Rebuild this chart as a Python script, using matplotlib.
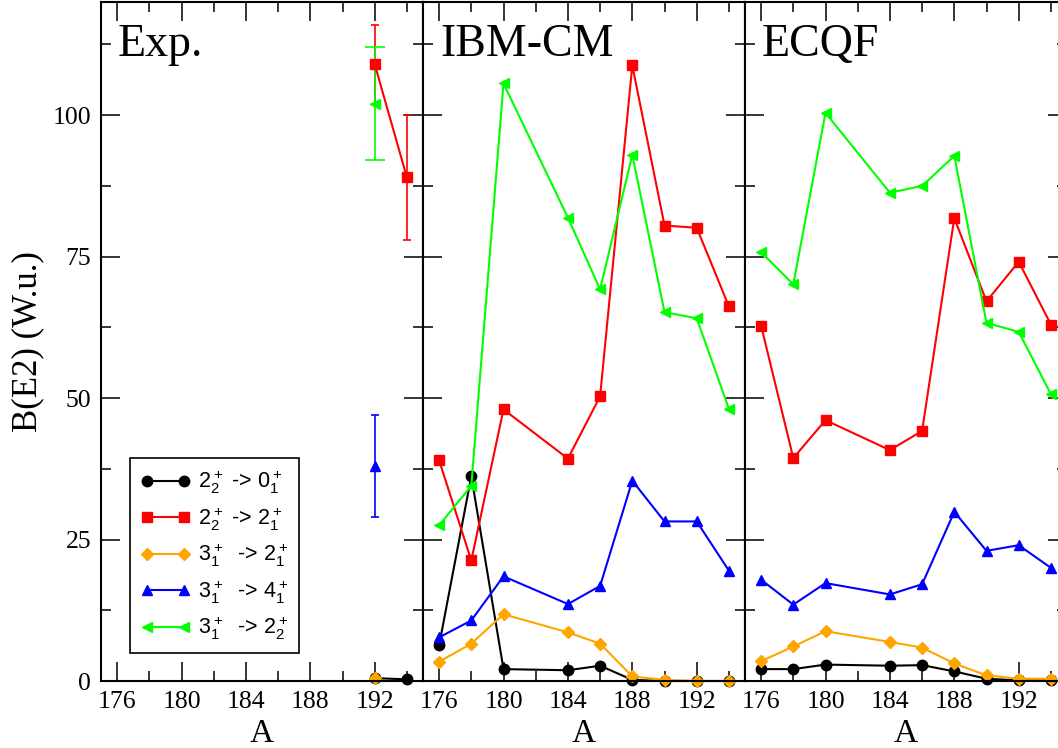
import matplotlib.pyplot as plt
from matplotlib.ticker import MultipleLocator

plt.rcParams['font.family'] = 'Liberation Serif'
plt.rcParams['axes.linewidth'] = 1.5

# mass numbers
A = [176, 178, 180, 184, 186, 188, 190, 192, 194]

# experimental B(E2) values (W.u.)
exp_A_black = [192, 194]
exp_black = [0.5, 0.3]
exp_A_red = [192, 194]
exp_red = [109, 89]
exp_red_err = [7, 11]
exp_A_orange = [192]
exp_orange = [0.6]
exp_A_blue = [192]
exp_blue = [38]
exp_blue_err = [9]
exp_A_green = [192]
exp_green = [102]
exp_green_err = [10]

# IBM-CM
ibm_black = [6.3, 36.2, 2.1, 1.9, 2.7, 0.2, 0.0, 0.0, 0.0]
ibm_red = [39.0, 21.3, 48.0, 39.3, 50.3, 108.8, 80.5, 80.1, 66.2]
ibm_orange = [3.4, 6.6, 11.8, 8.6, 6.6, 0.8, 0.2, 0.0, 0.0]
ibm_blue = [7.7, 10.7, 18.5, 13.6, 16.8, 35.4, 28.2, 28.2, 19.5]
ibm_green = [27.5, 34.5, 105.6, 81.9, 69.2, 93.0, 65.2, 64.1, 48.1]

# ECQF
ecqf_black = [2.1, 2.1, 2.9, 2.7, 2.8, 1.7, 0.4, 0.1, 0.1]
ecqf_red = [62.8, 39.4, 46.1, 40.8, 44.2, 81.8, 67.1, 74.1, 63.0]
ecqf_orange = [3.5, 6.1, 8.8, 6.9, 5.9, 3.1, 1.0, 0.4, 0.4]
ecqf_blue = [17.9, 13.5, 17.3, 15.3, 17.1, 29.9, 23.0, 24.0, 20.0]
ecqf_green = [75.8, 70.1, 100.4, 86.3, 87.5, 92.8, 63.3, 61.7, 50.7]

labels = [r'$\mathregular{2_2^+}$ -> $\mathregular{0_1^+}$',
          r'$\mathregular{2_2^+}$ -> $\mathregular{2_1^+}$',
          r'$\mathregular{3_1^+}$  -> $\mathregular{2_1^+}$',
          r'$\mathregular{3_1^+}$  -> $\mathregular{4_1^+}$',
          r'$\mathregular{3_1^+}$  -> $\mathregular{2_2^+}$']
colors = ['black', '#ff0000', '#ffa500', '#0000ff', '#00ff00']
markers = ['o', 's', 'D', '^', '<']
msizes = [7.5, 6.8, 5.8, 7.8, 7.8]

fig = plt.figure(figsize=(10.58, 7.48), dpi=100)
w = 322 / 1058
b = 67 / 748
h = 679 / 748
ax1 = fig.add_axes([101 / 1058, b, w, h])
ax2 = fig.add_axes([423 / 1058, b, w, h])
ax3 = fig.add_axes([745 / 1058, b, w, h])


def style(ax, name, left_labels):
    ax.set_xlim(175, 195)
    ax.set_ylim(0, 120)
    ax.xaxis.set_major_locator(MultipleLocator(4))
    ax.xaxis.set_minor_locator(MultipleLocator(2))
    ax.yaxis.set_major_locator(MultipleLocator(25))
    ax.yaxis.set_minor_locator(MultipleLocator(12.5))
    ax.tick_params(which='both', direction='in', top=True, right=True,
                   width=1.1, labelsize=18.5, labelleft=left_labels)
    ax.tick_params(which='major', length=14, pad=7)
    ax.tick_params(which='minor', length=7.5)
    ax.set_xlabel('A', fontsize=24, labelpad=4)
    ax.text(0.053, 0.92, name, transform=ax.transAxes, fontsize=33,
            va='baseline')


def draw(ax, series):
    lines = []
    for (x, y), c, m, ms, lab in zip(series, colors, markers, msizes, labels):
        ln, = ax.plot(x, y, color=c, marker=m, markersize=ms, lw=1.5,
                      label=lab, clip_on=False)
        lines.append(ln)
    return lines


# experiment panel with error bars
ax1.errorbar(exp_A_red, exp_red, yerr=exp_red_err, fmt='none',
             ecolor='#ff0000', elinewidth=1.2, capsize=3.2, capthick=1.2)
ax1.errorbar(exp_A_blue, exp_blue, yerr=exp_blue_err, fmt='none',
             ecolor='#0000ff', elinewidth=1.2, capsize=3.2, capthick=1.2)
ax1.errorbar(exp_A_green, exp_green, yerr=exp_green_err, fmt='none',
             ecolor='#00ff00', elinewidth=1.2, capsize=7, capthick=1.2)
handles = draw(ax1, [(exp_A_black, exp_black), (exp_A_red, exp_red),
                     (exp_A_orange, exp_orange), (exp_A_blue, exp_blue),
                     (exp_A_green, exp_green)])
style(ax1, 'Exp.', True)
ax1.set_ylabel('B(E2) (W.u.)', fontsize=25, labelpad=6)

leg = ax1.legend(handles=handles, loc='lower left',
                 bbox_to_anchor=(0.09, 0.041), borderaxespad=0,
                 numpoints=2, handlelength=2.3, handletextpad=0.35,
                 borderpad=0.5, labelspacing=0.42, fancybox=False,
                 framealpha=1, edgecolor='black',
                 prop={'family': 'Liberation Sans', 'size': 15.5})
leg.get_frame().set_linewidth(1.2)

draw(ax2, [(A, ibm_black), (A, ibm_red), (A, ibm_orange), (A, ibm_blue),
           (A, ibm_green)])
style(ax2, 'IBM-CM', False)

draw(ax3, [(A, ecqf_black), (A, ecqf_red), (A, ecqf_orange), (A, ecqf_blue),
           (A, ecqf_green)])
style(ax3, 'ECQF', False)

plt.savefig('out.png', dpi=100)
